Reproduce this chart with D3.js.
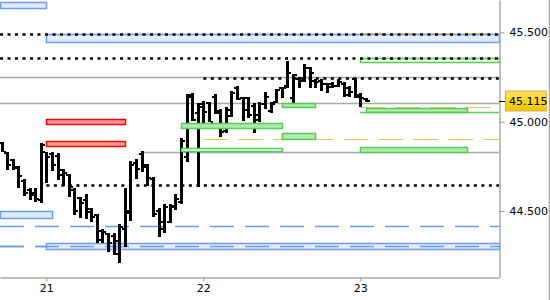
<!DOCTYPE html>
<html>
<head>
<meta charset="utf-8">
<script src="https://cdn.jsdelivr.net/npm/d3@7"></script>
<style>
body { margin: 0; background: #fff; }
svg { display: block; font-family: "DejaVu Sans", sans-serif; }
</style>
</head>
<body>
<svg id="chart"></svg>
<script>
// bars, left to right (one per period)
let opens = [44.880, 44.825, 44.785, 44.745, 44.670, 44.620, 44.600, 44.560, 44.830, 44.820,
             44.810, 44.730, 44.700, 44.620, 44.575, 44.560, 44.510, 44.480, 44.390, 44.370,
             44.360, 44.260, 44.400, 44.500, 44.770, 44.820, 44.760, 44.680, 44.500, 44.400,
             44.440, 44.520, 44.550, 44.800, 45.150, 45.050, 45.100, 45.105, 45.140, 45.060,
             44.950, 45.030, 45.190, 45.130, 45.130, 45.090, 45.010, 45.100, 45.060, 45.110,
             45.190, 45.200, 45.130, 45.240, 45.230, 45.300, 45.230, 45.230, 45.210, 45.210,
             45.200, 45.210, 45.190, 45.240, 45.150, 45.125];
let highs = [44.886, 44.830, 44.791, 44.752, 44.679, 44.629, 44.629, 44.881, 44.830, 44.830,
             44.824, 44.735, 44.707, 44.629, 44.579, 44.596, 44.518, 44.484, 44.400, 44.378,
             44.378, 44.428, 44.629, 44.780, 44.791, 44.836, 44.763, 44.690, 44.518, 44.540,
             44.540, 44.596, 44.910, 45.154, 45.160, 45.104, 45.115, 45.110, 45.154, 45.071,
             45.082, 45.171, 45.199, 45.138, 45.138, 45.104, 45.110, 45.166, 45.110, 45.182,
             45.194, 45.339, 45.267, 45.250, 45.323, 45.306, 45.239, 45.239, 45.216, 45.222,
             45.239, 45.222, 45.199, 45.244, 45.160, 45.132];
let lows = [44.830, 44.729, 44.729, 44.629, 44.584, 44.562, 44.551, 44.545, 44.657, 44.724,
            44.674, 44.640, 44.580, 44.478, 44.462, 44.456, 44.440, 44.322, 44.322, 44.272,
            44.255, 44.211, 44.299, 44.445, 44.679, 44.718, 44.640, 44.467, 44.355, 44.378,
            44.433, 44.507, 44.540, 44.774, 45.003, 44.634, 44.992, 44.998, 45.042, 44.914,
            44.937, 45.026, 45.121, 45.003, 45.020, 44.937, 44.998, 45.071, 45.048, 45.104,
            45.132, 45.188, 45.104, 45.188, 45.222, 45.188, 45.188, 45.172, 45.160, 45.188,
            45.194, 45.138, 45.138, 45.132, 45.082, 45.110];
let closes = [44.830, 44.760, 44.740, 44.695, 44.600, 44.590, 44.565, 44.870, 44.800, 44.760,
              44.700, 44.713, 44.635, 44.500, 44.545, 44.495, 44.467, 44.340, 44.385, 44.320,
              44.330, 44.410, 44.490, 44.760, 44.735, 44.746, 44.685, 44.484, 44.440, 44.520,
              44.530, 44.570, 44.890, 45.140, 45.010, 45.080, 45.055, 45.000, 45.050, 44.940,
              45.065, 45.160, 45.125, 45.065, 45.035, 45.037, 45.100, 45.140, 45.100, 45.180,
              45.190, 45.270, 45.260, 45.228, 45.300, 45.270, 45.220, 45.210, 45.194, 45.200,
              45.220, 45.150, 45.166, 45.140, 45.130, 45.115];

let lastPrice = 45.115;

// x axis: bar index where each day starts
let dayTicks = [8, 36, 64];
let dayLabels = ["21", "22", "23"];
let priceTicks = [44.5, 45.0, 45.5];

// zones: [start bar, end bar, top price, bottom price] (null = chart edge)
let blueZones = [[null, 8, 45.669, 45.636], [8, null, 45.490, 45.446],
                 [null, 9, 44.500, 44.461], [8, null, 44.321, 44.287]];
let redZones = [[8, 22, 45.015, 44.987], [8, 22, 44.891, 44.863]];
let greenZones = [[50, 56, 45.104, 45.082], [32, 50, 44.992, 44.964], [50, 56, 44.936, 44.903],
                  [64, 83, 44.858, 44.830], [65, 83, 45.076, 45.054]];
let greenOutlines = [[32, 50, 44.853, 44.836], [64, null, 45.356, 45.334]];

// levels: [start bar, end bar, price]
let dottedLevels = [[null, null, 45.493], [null, null, 45.356], [36, null, 45.247], [8, null, 44.645]];
let grayLevels = [[null, null, 45.250], [null, null, 45.104], [25, null, 44.830]];
let blueDashLevels = [[null, null, 44.416], [null, null, 44.304]];
let orangeDashLevels = [[64, null, 45.496], [36, null, 44.903], [64, null, 45.082]];
let greenLevels = [[64, null, 45.054]];

let w = 550;
let h = 300;
let plotW = 499;
let plotH = 277;

let svg = d3.select("#chart").attr("width", w).attr("height", h);

let xScale = d3.scaleLinear().domain([-0.27, 88.73]).range([0, plotW]);
let yScale = d3.scaleLinear().domain([44.131, 45.681]).range([plotH, 0]);

let xs = (v, edge) => xScale(v == null ? xScale.domain()[edge] : v);

let drawLevels = (data, color, width, dash) => {
    svg.append("g")
       .selectAll("line")
       .data(data)
       .enter()
       .append("line")
       .attr("x1", (d) => xs(d[0], 0))
       .attr("x2", (d) => xs(d[1], 1))
       .attr("y1", (d) => Math.round(yScale(d[2])) + 0.5)
       .attr("y2", (d) => Math.round(yScale(d[2])) + 0.5)
       .attr("stroke", color)
       .attr("stroke-width", width)
       .attr("stroke-dasharray", dash)
}

let drawZones = (data, fill, stroke, width) => {
    svg.append("g")
       .selectAll("rect")
       .data(data)
       .enter()
       .append("rect")
       .attr("x", (d) => Math.round(xs(d[0], 0)) + 0.5)
       .attr("y", (d) => Math.round(yScale(d[2])) + 0.5)
       .attr("width", (d) => Math.round(xs(d[1], 1)) - Math.round(xs(d[0], 0)))
       .attr("height", (d) => Math.round(yScale(d[3])) - Math.round(yScale(d[2])))
       .attr("fill", fill)
       .attr("stroke", stroke)
       .attr("stroke-width", width)
}

let drawBars = () => {
    let bars = svg.append("g")
                  .selectAll("g")
                  .data(highs)
                  .enter()
                  .append("g")
    let cx = (i) => Math.round(xScale(i)) + 0.5;
    bars.append("line")
        .attr("x1", (d, i) => cx(i))
        .attr("x2", (d, i) => cx(i))
        .attr("y1", (d) => Math.round(yScale(d)))
        .attr("y2", (d, i) => Math.round(yScale(lows[i])))
        .attr("stroke", "#000")
        .attr("stroke-width", 3)
    bars.append("rect")
        .attr("x", (d, i) => cx(i) - 3.5)
        .attr("y", (d, i) => Math.round(yScale(opens[i])) - 1)
        .attr("width", 2)
        .attr("height", 2)
        .attr("fill", "#000")
    bars.append("rect")
        .attr("x", (d, i) => cx(i) + 1.5)
        .attr("y", (d, i) => Math.round(yScale(closes[i])) - 1)
        .attr("width", 2)
        .attr("height", 2)
        .attr("fill", "#000")
}

let drawAxes = () => {
    let yAxis = d3.axisRight(yScale)
                  .tickValues(priceTicks)
                  .tickFormat(d3.format(".3f"))
                  .tickSize(5)
                  .tickSizeOuter(0)
                  .tickPadding(5)
    let xAxis = d3.axisBottom(xScale)
                  .tickValues(dayTicks)
                  .tickFormat((d, i) => dayLabels[i])
                  .tickSize(4)
                  .tickSizeOuter(0)
                  .tickPadding(3)

    let gy = svg.append("g")
                .attr("transform", `translate(${plotW + 0.5}, 0)`)
                .call(yAxis)
    let gx = svg.append("g")
                .attr("transform", `translate(0, ${plotH + 0.5})`)
                .call(xAxis)
    for (let g of [gx, gy]) {
        g.attr("font-family", "DejaVu Sans, sans-serif").attr("font-size", 11)
        g.select(".domain").attr("stroke", "#aaa").attr("stroke-width", 1.5)
        g.selectAll(".tick line").attr("stroke", "#999")
        g.selectAll(".tick text").attr("fill", "#000")
    }

    svg.append("line")
       .attr("x1", w - 0.5).attr("x2", w - 0.5)
       .attr("y1", 0).attr("y2", h)
       .attr("stroke", "#aaa")
       .attr("stroke-width", 1.5)

    // current price marker
    let py = Math.round(yScale(lastPrice)) + 0.5;
    let grad = svg.append("defs").append("linearGradient")
                  .attr("id", "gold").attr("x1", 0).attr("x2", 0).attr("y1", 0).attr("y2", 1)
    grad.append("stop").attr("offset", "0%").attr("stop-color", "#ffe35a")
    grad.append("stop").attr("offset", "100%").attr("stop-color", "#f5c400")
    svg.append("line")
       .attr("x1", plotW).attr("x2", plotW + 6)
       .attr("y1", py).attr("y2", py)
       .attr("stroke", "#000")
    svg.append("rect")
       .attr("x", 505.5).attr("y", py - 10.5)
       .attr("width", 41).attr("height", 20)
       .attr("fill", "url(#gold)")
       .attr("stroke", "#c9b25a")
    svg.append("text")
       .attr("x", 509).attr("y", py)
       .attr("dy", "0.35em")
       .attr("font-size", 11)
       .attr("fill", "#000")
       .text(d3.format(".3f")(lastPrice))
}

drawLevels(grayLevels, "#aaa", 1.5, null)
drawLevels(blueDashLevels, "#6b9bf0", 1.3, "24,11")
drawZones(blueZones, "#e4edfc", "#6d9cf2", 1.5)
drawLevels([blueDashLevels[1]], "#6b9bf0", 1.3, "24,11")
drawLevels(orangeDashLevels, "#f2c060", 1.2, "25,10")
drawBars()
drawZones(redZones, "#ff9999", "#ff0000", 1.5)
drawZones(greenZones, "#b3e8b0", "#55cc55", 1.5)
drawZones(greenOutlines, "#f4fcf4", "#55cc55", 1.5)
drawLevels(greenLevels, "#55cc55", 1.5, null)
drawLevels(dottedLevels, "#000", 2.5, "3,4.5")
drawAxes()
</script>
</body>
</html>
